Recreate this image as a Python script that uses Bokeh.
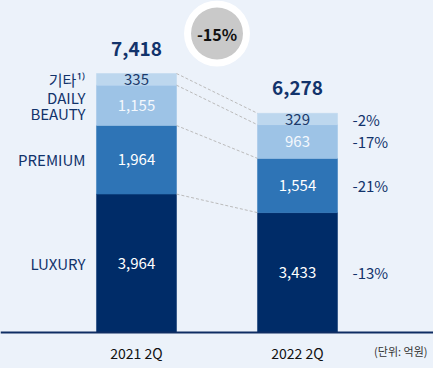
from bokeh.plotting import figure
from bokeh.models import Range1d, Span, Label, ColumnDataSource
from bokeh.embed import file_html
from bokeh.resources import INLINE
from bokeh.core.properties import value

# ---- data ----
periods = ["2021 2Q", "2022 2Q"]
segment_names = [["LUXURY"], ["PREMIUM"], ["DAILY", "BEAUTY"], ["기타¹⁾"]]
luxury = [3964, 3433]
premium = [1964, 1554]
daily_beauty = [1155, 963]
etc = [335, 329]
totals = [7418, 6278]
total_change_label = "-15%"
unit_note = "(단위: 억원)"

series = [luxury, premium, daily_beauty, etc]
colors = ["#002C68", "#2E74B6", "#9DC3E6", "#BDD7EE"]
label_colors = ["#FFFFFF", "#FFFFFF", "#F4F8FD", "#1B3A6B"]

BG = "#ECF2FA"
NAVY = "#12336B"
FONT = "Noto Sans CJK KR"

W, H = 433, 368
Y0, Y1 = -1031, 9509
UNITS_PER_PX = (Y1 - Y0) / H

xs = [0, 1]
w = 0.497

p = figure(width=W, height=H, output_backend="svg", toolbar_location=None,
           x_range=Range1d(-0.8447, 1.8447), y_range=Range1d(Y0, Y1),
           min_border=0, min_border_left=0, min_border_right=0,
           min_border_top=0, min_border_bottom=0)
p.axis.visible = False
p.grid.visible = False
p.outline_line_color = None
p.background_fill_color = BG
p.border_fill_color = BG

# stacked bars
bottoms = [0, 0]
seg_bottoms = []
seg_tops = []
for vals, col, lc in zip(series, colors, label_colors):
    tops = [b + v for b, v in zip(bottoms, vals)]
    seg_bottoms.append(list(bottoms))
    seg_tops.append(tops)
    src = ColumnDataSource(dict(x=xs, bottom=bottoms, top=tops,
                                mid=[(b + t) / 2 for b, t in zip(bottoms, tops)],
                                lab=[f"{v:,}" for v in vals]))
    p.vbar(x="x", width=w, bottom="bottom", top="top", source=src,
           fill_color=col, line_color=col, line_width=0.5)
    p.text(x="x", y="mid", text="lab", source=src, text_align="center",
           text_baseline="middle", text_color=lc, text_font=value(FONT),
           text_font_size="15px")
    bottoms = tops

# dashed connector lines between segment tops
for tops in seg_tops:
    p.segment(x0=xs[0] + w / 2, y0=tops[0], x1=xs[1] - w / 2, y1=tops[1],
              line_color="#BBBBBB", line_width=1, line_dash="3 2")

# segment names left of first bar
for lines, b, t in zip(segment_names, seg_bottoms, seg_tops):
    mid = (b[0] + t[0]) / 2
    n = len(lines)
    for i, line in enumerate(lines):
        off = (i - (n - 1) / 2) * 16
        p.text(x=[xs[0] - w / 2], y=[mid], text=[line], x_offset=-11, y_offset=off,
               text_align="right", text_baseline="middle", text_color=NAVY,
               text_font=value(FONT), text_font_size="15px")

# change percentages right of second bar
for vals, b, t in zip(series, seg_bottoms, seg_tops):
    pct = round((vals[1] / vals[0] - 1) * 100)
    mid = (b[1] + t[1]) / 2
    p.text(x=[xs[1] + w / 2], y=[mid], text=[f"{pct}%"], x_offset=15,
           text_align="left", text_baseline="middle", text_color=NAVY,
           text_font=value(FONT), text_font_size="15px")

# totals
p.text(x=xs, y=totals, text=[f"{t:,}" for t in totals], y_offset=-25,
       text_align="center", text_baseline="middle", text_color=NAVY,
       text_font=value(FONT), text_font_size="19px", text_font_style="bold")

# total change bubble, 40px above the taller bar
cx = (xs[0] + xs[1]) / 2
cy = max(totals) + 40 * UNITS_PER_PX
p.scatter(x=[cx], y=[cy], size=66, fill_color="#FFFFFF", line_color=None)
p.scatter(x=[cx], y=[cy], size=52, fill_color="#C9C9C9", line_color=None)
p.text(x=[cx], y=[cy], text=[total_change_label], text_align="center",
       text_baseline="middle", text_color="#111111", text_font=value(FONT),
       text_font_size="16px", text_font_style="bold")

# baseline
p.add_layout(Span(location=0, dimension="width", line_color="#0F2D63", line_width=2))

# category labels
p.text(x=xs, y=[0, 0], text=periods, y_offset=20, text_align="center",
       text_baseline="middle", text_color="#111111", text_font=value(FONT),
       text_font_size="14px")

p.add_layout(Label(x=427, y=18, x_units="screen", y_units="screen", text=unit_note,
                   text_align="right", text_baseline="middle", text_color="#333333",
                   text_font=FONT, text_font_size="11px"))

html = file_html(p, INLINE)
html = html.replace("<body>", f'<body style="background-color:{BG};">', 1)
html = html.replace("</head>", f"<style>html,body{{background-color:{BG};}}</style></head>", 1)
open("out.html", "w").write(html)
